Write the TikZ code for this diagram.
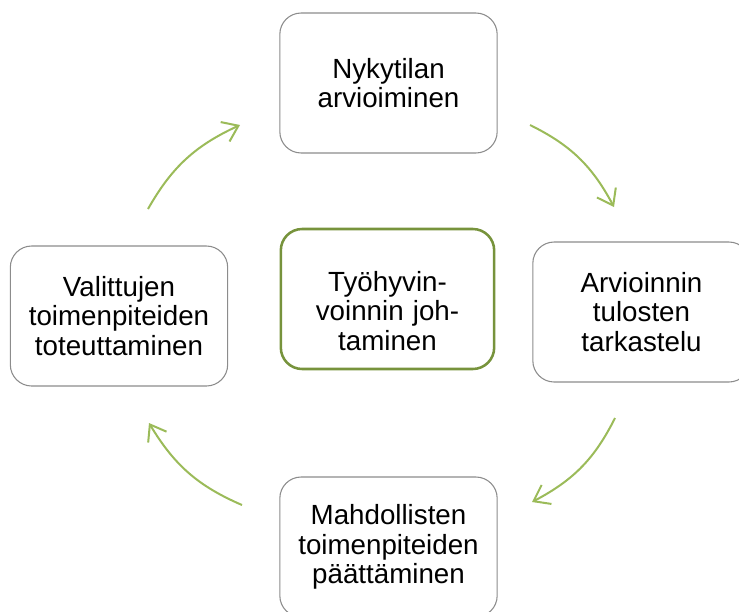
\documentclass[tikz,border=0pt]{standalone}
\usepackage{fontspec}
\setmainfont{Liberation Sans}
\usetikzlibrary{arrows.meta,bending}
\definecolor{boxgray}{HTML}{8C8C8C}
\definecolor{leafgreen}{HTML}{77933C}
\definecolor{arrowgreen}{HTML}{9BBB59}
\tikzset{>={Straight Barb[length=11pt,width=16pt,flex]},auto}
\tikzset{phase box/.style={draw=boxgray,line width=0.8pt,rounded corners=16pt,fill=white,
    minimum width=163pt,minimum height=105pt,text width=155pt,align=center,inner sep=0pt,
    font=\fontsize{20.8}{22}\selectfont}}
\tikzset{core box/.style={phase box,draw=leafgreen,line width=1.9pt,minimum width=160pt}}
\tikzset{cycle arrow/.style={draw=arrowgreen,line width=1.5pt}}

\begin{document}
\begin{tikzpicture}[x=0.75pt,y=-0.75pt]
				\useasboundingbox (0,0) rectangle (739,611);
				\node[core box]  (core)   at (387.5,299) {\rule{0pt}{33pt}Työhyvin-\\voinnin joh-\\taminen};
				\node[phase box] (nyky)   at (388.5,83)  {Nykytilan\\arvioiminen};
				\node[phase box] (tulos)  at (641.5,312) {Arvioinnin\\tulosten\\tarkastelu};
				\node[phase box] (paatos) at (388.5,547) {Mahdollisten\\toimenpiteiden\\päättäminen};
				\node[phase box] (toteut) at (119,316)   {Valittujen\\toimenpiteiden\\toteuttaminen};
				% arrow ends between the boxes
				\coordinate (a1) at (530,125);  \coordinate (b1) at (614,207);
				\coordinate (a2) at (615,418);  \coordinate (b2) at (532,502);
				\coordinate (a3) at (242,505);  \coordinate (b3) at (149,423);
				\coordinate (a4) at (148,209);  \coordinate (b4) at (240,125);
				\path[->]
					(a1) edge [cycle arrow,bend left=18] (b1)
					(a2) edge [cycle arrow,bend left=18] (b2)
					(a3) edge [cycle arrow,bend left=18] (b3)
					(a4) edge [cycle arrow,bend left=18] (b4);
\end{tikzpicture}
\end{document}
